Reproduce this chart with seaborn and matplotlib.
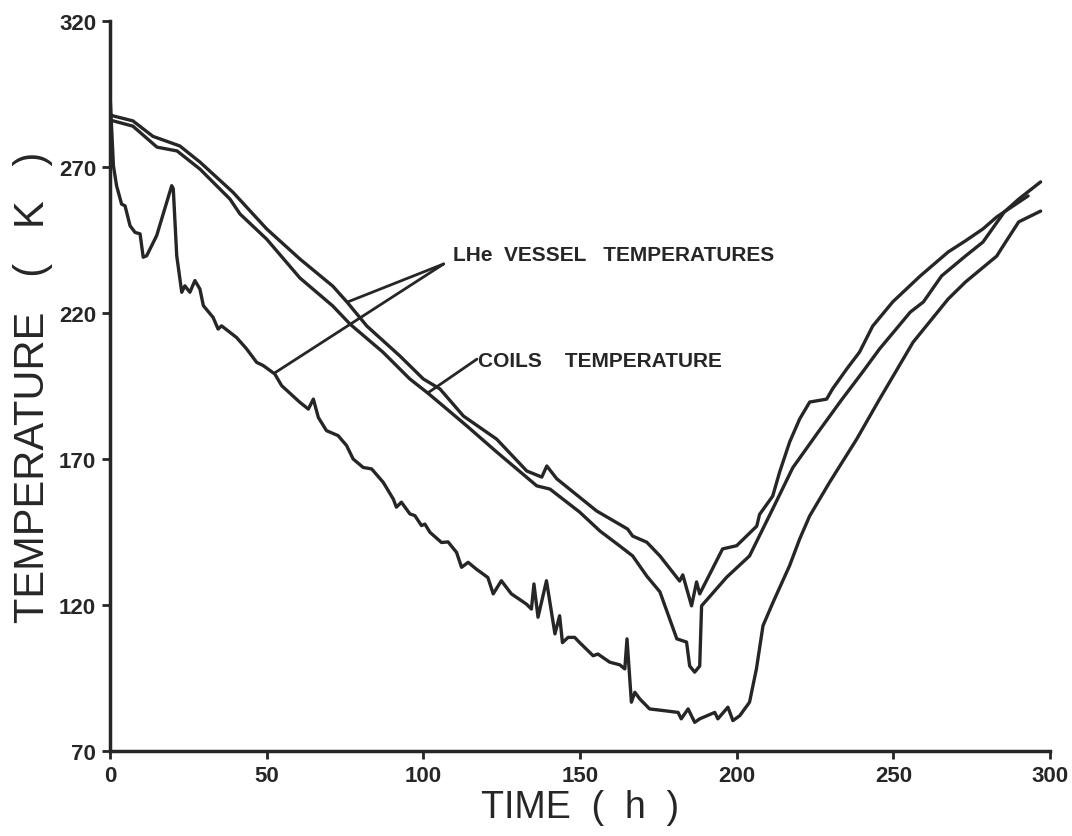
import numpy as np
import pandas as pd
import matplotlib
matplotlib.use('Agg')
import matplotlib.pyplot as plt
import seaborn as sns

sns.set_style('ticks')
plt.rcParams['font.family'] = ['Liberation Sans', 'DejaVu Sans']

# ---- data: (time h, temperature K) ----
vessel_upper = [
    (0, 288), (1, 287.5), (7.3, 285.8), (13.7, 280.5), (22.3, 277.2), (28.7, 271.7),
    (39.2, 261.4), (50, 248.8), (60.6, 238.5), (71.1, 229.2), (75.6, 223.8), (82, 215.5),
    (92.5, 205.3), (100, 197.4), (105.3, 194), (112.8, 184.7), (123.4, 176.8), (133, 165.9),
    (137.8, 163.8), (139.4, 167.6), (142.6, 163.2), (155.3, 152.2), (165.2, 146), (166.8, 143.6),
    (171.3, 141.5), (175.5, 136.8), (181.8, 128.2), (182.8, 130.3), (185.6, 119.7), (187.2, 127.9),
    (188.2, 123.8), (195.5, 139.2), (200, 140.3), (206.4, 147), (207.3, 151), (211.5, 157.3),
    (213.7, 165.5), (216.9, 175.8), (220.1, 183.7), (223.3, 189.5), (228.7, 190.5), (230.6, 194),
    (235.1, 200.8), (239.2, 206.6), (243.4, 215.5), (249.8, 223.8), (258.6, 232.7), (267.5, 240.9),
    (273, 244.7), (278.6, 248.8), (283, 252.9), (293, 260.1),
]

coils = [
    (0, 286), (1, 285.8), (7.3, 284), (15, 276.8), (21.4, 275.5), (28.7, 269.3),
    (38.3, 259), (41.5, 253.9), (50, 245.3), (60.6, 232), (71.1, 222.4), (76.6, 216.2),
    (87.1, 206.6), (95.7, 197.4), (101.4, 192.6), (107.5, 187.1), (113.9, 181.3), (123.4, 172.4),
    (136.2, 160.8), (140.4, 159.7), (149.9, 151.8), (156.4, 145.3), (162.7, 140.2), (166.8, 136.8),
    (171.3, 129.9), (175.5, 124.5), (180.9, 108.4), (184, 107.3), (185, 99.1), (186.6, 97),
    (188.2, 99.1), (188.8, 119.7), (196.8, 129.5), (204.1, 136.8), (211.5, 152.9), (217.9, 167),
    (226, 179.2), (233.3, 190), (240.2, 199.8), (245.6, 207.7), (255.4, 220.3), (259.6, 223.8),
    (265.4, 232.7), (273, 239.5), (278.6, 244.3), (285.4, 254.6), (290, 259), (297, 264.9),
]

vessel_lower = [
    (0, 295), (1.1, 270.4), (2.1, 263.6), (3.7, 257.3), (4.8, 256.7), (6.4, 249.9),
    (8, 247.6), (9.6, 247.1), (10.6, 239.1), (11.7, 239.6), (14.9, 246.5), (19.7, 263.6),
    (20.2, 262.5), (21.3, 239.6), (22.9, 227.1), (23.9, 229.3), (25.5, 227.1), (27.1, 231.1),
    (28.7, 228.2), (29.8, 222.5), (32.9, 218.5), (34.5, 214.5), (35.6, 215.6), (40.4, 211.6),
    (43.6, 207.7), (46.8, 203.1), (48.9, 202), (52.6, 199.1), (54.8, 195.1), (60.6, 189.4),
    (63.3, 187.1), (64.9, 190.5), (66.5, 184.2), (69.1, 179.7), (72.8, 178), (75.5, 174.6),
    (77.6, 170), (80.8, 167.1), (83.5, 166.6), (87.2, 162), (90.4, 156.3), (91.4, 153.5),
    (93, 155.2), (95.7, 151.2), (97.3, 150.6), (99.4, 147.2), (100.5, 147.7), (102.1, 144.9),
    (105.8, 141.4), (107.9, 141.6), (110.6, 138), (112.2, 132.9), (114.3, 134.6), (116.9, 132.3),
    (120.6, 129.4), (122.3, 123.8), (124.9, 128.3), (128.1, 123.8), (132.9, 120.3), (134.5, 118.6),
    (135.3, 127.2), (136.6, 115.8), (139.3, 128.3), (142, 110.1), (143.5, 116.3), (144.4, 107.1),
    (146.2, 108.9), (148.3, 108.9), (149.9, 107.1), (154.2, 102.6), (155.7, 103.2), (159.5, 100.4),
    (162.7, 99.5), (164.3, 98.1), (165, 108.4), (166.4, 86.7), (167.5, 90.1), (169.1, 87.8),
    (172.2, 84.4), (177.6, 83.7), (181.3, 83.2), (182.3, 81), (184.5, 84.4), (186.6, 79.8),
    (188.2, 81), (193, 83.2), (194, 81), (197.2, 85), (198.8, 80.4), (201, 82.1),
    (204.1, 86.7), (206.3, 98.1), (208.4, 112.9), (211.6, 120.9), (216.9, 133.5), (220.1, 142.6),
    (223.3, 150.5), (229.7, 162.1), (238.3, 176.8), (245.6, 190.5), (256.3, 210), (267.5, 224.8),
    (273, 230.6), (283, 239.5), (284.4, 241.9), (290, 251.2), (297, 254.9),
]

# leader lines for the labels
lhe_label = 'LHe  VESSEL   TEMPERATURES'
lhe_anchor = (109.5, 240.2)
lhe_leaders = [[(106.5, 236.8), (75.9, 223.8)], [(106.5, 236.8), (52.6, 199.5)]]
coils_label = 'COILS    TEMPERATURE'
coils_anchor = (117.3, 203.6)
coils_leader = [(117.1, 204.2), (101.4, 192.6)]

frames = []
for name, pts in [('upper', vessel_upper), ('coils', coils), ('lower', vessel_lower)]:
    d = pd.DataFrame(pts, columns=['time', 'temp'])
    d['series'] = name
    frames.append(d)
df = pd.concat(frames, ignore_index=True)

fig = plt.figure(figsize=(10.72, 8.37), dpi=100)
ax = fig.add_axes([0.1026, 0.1016, 0.8769, 0.8721])

ink = '#262626'
for name in ['upper', 'coils', 'lower']:
    sub = df[df['series'] == name]
    sns.lineplot(data=sub, x='time', y='temp', sort=False, estimator=None,
                 color=ink, linewidth=2.4, ax=ax)

for seg in lhe_leaders + [coils_leader]:
    xs, ys = zip(*seg)
    ax.plot(xs, ys, color=ink, linewidth=2.0)

ax.text(*lhe_anchor, lhe_label, fontsize=15, fontweight='bold', color=ink, va='center', ha='left')
ax.text(*coils_anchor, coils_label, fontsize=15, fontweight='bold', color=ink, va='center', ha='left')

ax.set_xlim(0, 300)
ax.set_ylim(70, 320)
ax.set_xticks(range(0, 301, 50))
ax.set_yticks(range(70, 321, 50))
for lab in ax.get_xticklabels() + ax.get_yticklabels():
    lab.set_fontweight('bold')
    lab.set_fontsize(16)
ax.tick_params(axis='both', direction='out', length=6, width=2, color=ink, labelcolor=ink, pad=4)

ax.set_xlabel('TIME  (  h  )', fontsize=27, color=ink, labelpad=2)
ax.set_ylabel('TEMPERATURE   (   K   )', fontsize=30, color=ink, labelpad=4)

sns.despine(ax=ax)
for s in ['left', 'bottom']:
    ax.spines[s].set_linewidth(2.5)
    ax.spines[s].set_color(ink)

fig.savefig('out.png', dpi=100)
